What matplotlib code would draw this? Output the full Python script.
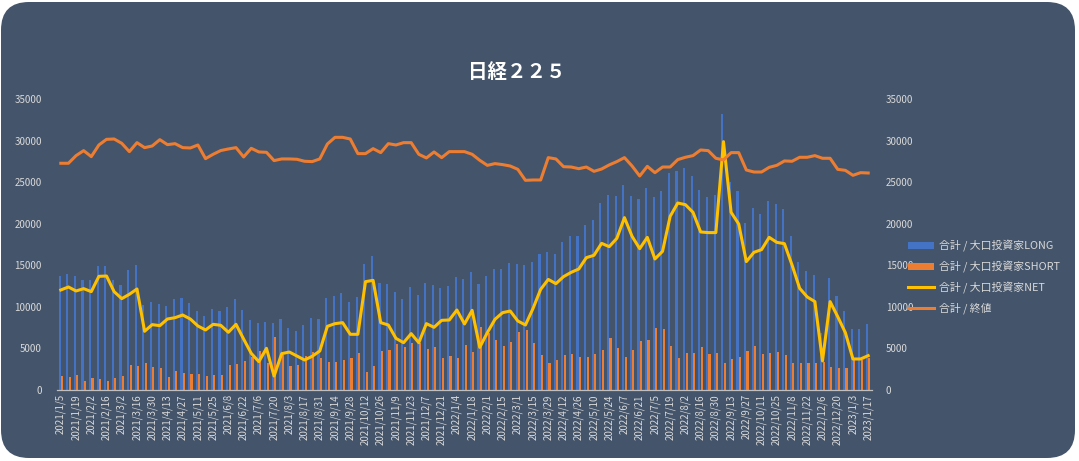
import matplotlib
matplotlib.use("Agg")
import matplotlib.pyplot as plt
from matplotlib.patches import FancyBboxPatch
import numpy as np
import pandas as pd

# ── data (weekly) ──
dates = pd.date_range("2021-01-05", periods=107, freq="7D")
date_labels = [f"{d.year}/{d.month}/{d.day}" for d in dates]

long_pos = [
    13750, 13950, 13750, 13270, 13190, 14880, 14880, 13230, 12590, 14430,
    15040, 10230, 10550, 10300, 10100, 10950, 11070, 10460, 9500, 8900,
    9740, 9500, 9940, 10990, 9580, 8380, 8100, 8180, 8020, 8500,
    7420, 7060, 7780, 8700, 8540, 11030, 11270, 11630, 10550, 11190,
    15120, 16080, 12870, 12710, 11750, 10950, 12390, 11430, 12910, 12630,
    12270, 12510, 13550, 13390, 14190, 12710, 13750, 14590, 14590, 15320,
    15160, 15040, 15400, 16320, 16600, 16320, 17760, 18520, 18520, 19810,
    20450, 22450, 23500, 23300, 24660, 23300, 22980, 24340, 23220, 23900,
    26100, 26340, 26700, 25740, 24100, 23260, 23460, 33200, 25020, 23940,
    20130, 21890, 21130, 22780, 22370, 21730, 18480, 15440, 14350, 13830,
    6900, 13430, 11350, 9500, 7340, 7340, 7940,
]
short_pos = [
    1680, 1560, 1840, 1080, 1400, 1280, 1120, 1480, 1680, 3000,
    2890, 3210, 2810, 2610, 1600, 2250, 2040, 1920, 1920, 1680,
    1840, 1760, 3010, 3090, 3450, 3970, 4690, 3290, 6340, 4210,
    2930, 3010, 4130, 4610, 3850, 3410, 3410, 3570, 3810, 4410,
    2130, 2890, 4690, 4810, 5530, 5210, 5610, 5600, 4930, 5130,
    3810, 4090, 3850, 5450, 4570, 7540, 6860, 6050, 5250, 5770,
    6940, 7260, 5650, 4210, 3290, 3570, 4170, 4370, 3970, 3970,
    4330, 4810, 6250, 5050, 3970, 4850, 5930, 6010, 7460, 7300,
    5290, 3850, 4450, 4450, 5170, 4370, 4490, 3250, 3730, 4010,
    4690, 5330, 4290, 4410, 4570, 4210, 3290, 3290, 3290, 3290,
    3400, 2770, 2650, 2650, 3610, 3610, 3810,
]
net_pos = [
    12030, 12390, 11910, 12190, 11830, 13670, 13710, 11830, 10990, 11510,
    12150, 7060, 7860, 7740, 8540, 8700, 9020, 8540, 7700, 7220,
    7900, 7780, 6940, 7900, 6130, 4410, 3410, 5010, 1680, 4370,
    4570, 4090, 3610, 4050, 4690, 7660, 7980, 8100, 6700, 6700,
    13030, 13190, 8100, 7820, 6210, 5690, 6780, 5690, 7980, 7540,
    8380, 8420, 9620, 7940, 9580, 5130, 6900, 8500, 9300, 9500,
    8300, 7820, 9820, 12110, 13300, 12790, 13630, 14150, 14550, 15920,
    16200, 17640, 17240, 18240, 20730, 18480, 17000, 18360, 15760, 16680,
    20890, 22490, 22290, 21370, 19010, 18930, 18930, 29870, 21370, 19970,
    15440, 16560, 16880, 18360, 17760, 17600, 15040, 12230, 11190, 10630,
    3500, 10630, 8820, 6900, 3730, 3730, 4130,
]
close_price = [
    27270, 27270, 28190, 28790, 28070, 29470, 30150, 30190, 29670, 28670,
    29750, 29150, 29350, 30110, 29510, 29630, 29150, 29110, 29470, 27830,
    28350, 28800, 28990, 29150, 28030, 29070, 28630, 28590, 27590, 27790,
    27790, 27750, 27510, 27470, 27790, 29590, 30390, 30390, 30190, 28430,
    28430, 29030, 28550, 29630, 29470, 29750, 29750, 28350, 27910, 28630,
    27950, 28670, 28670, 28670, 28350, 27630, 27020, 27230, 27110, 26940,
    26540, 25220, 25260, 25260, 27950, 27790, 26860, 26820, 26620, 26820,
    26300, 26580, 27070, 27470, 27950, 26940, 25740, 26900, 26140, 26820,
    26820, 27710, 27990, 28190, 28870, 28790, 27870, 27670, 28550, 28550,
    26460, 26220, 26220, 26780, 27020, 27550, 27510, 27990, 27990, 28190,
    27870, 27870, 26540, 26420, 25820, 26140, 26100,
]

series_names = ["合計 / 大口投資家LONG", "合計 / 大口投資家SHORT",
                "合計 / 大口投資家NET", "合計 / 終値"]
y_ticks = [0, 5000, 10000, 15000, 20000, 25000, 30000, 35000]

# ── style ──
plt.rcParams['font.family'] = ['Noto Sans CJK JP', 'DejaVu Sans']
BG = '#44546A'
TXT = '#D9D9D9'
BLUE = '#4472C4'
ORANGE = '#ED7D31'
YELLOW = '#FFC000'

W, H = 1079, 461
fig = plt.figure(figsize=(W / 100, H / 100), dpi=100)
fig.patch.set_facecolor('white')

# rounded dark background, kept behind the axes
bg = FancyBboxPatch((1 / W, 3 / H), 1074 / W, 456 / H,
                    boxstyle="round,pad=0,rounding_size=0.026",
                    mutation_aspect=W / H, transform=fig.transFigure,
                    facecolor=BG, edgecolor='none', zorder=-10)
fig.patches.append(bg)

ax = fig.add_axes([57 / W, 71 / H, 815 / W, 291 / H])
ax.set_facecolor('none')
x = np.arange(len(date_labels))

b1 = ax.bar(x - 0.16, long_pos, width=0.28, color=BLUE, zorder=2)
b2 = ax.bar(x + 0.16, short_pos, width=0.28, color=ORANGE, zorder=2)
l1, = ax.plot(x, net_pos, color=YELLOW, lw=2.2, zorder=3, solid_joinstyle='round')

ax2 = ax.twinx()
ax2.set_facecolor('none')
l2, = ax2.plot(x, close_price, color=ORANGE, lw=2.2, zorder=3, solid_joinstyle='round')

for a in (ax, ax2):
    a.set_ylim(0, 35000)
    a.set_yticks(y_ticks)
    a.set_xlim(-0.5, len(x) - 0.5)
    for s in a.spines.values():
        s.set_visible(False)
    a.tick_params(axis='y', length=0, labelsize=7, labelcolor=TXT)

ax.tick_params(axis='y', pad=11)
ax2.tick_params(axis='y', pad=10)
ax.spines['bottom'].set_visible(True)
ax.spines['bottom'].set_color('#BFBFBF')
ax.spines['bottom'].set_linewidth(0.9)

ax.set_xticks(x[::2])
ax.set_xticklabels(date_labels[::2], rotation=90, fontsize=7, color=TXT)
ax.tick_params(axis='x', length=0, pad=3)

fig.text(517 / W, 1 - 72 / H, '日経２２５', ha='center', va='center',
         fontsize=14, fontweight='bold', color='white')

leg = fig.legend([b1, b2, l1, l2], series_names,
                 loc='center left', bbox_to_anchor=(905 / W, 1 - 277 / H),
                 frameon=False, fontsize=7.8, labelcolor=TXT,
                 handlelength=2.4, handleheight=0.6, handletextpad=0.4,
                 labelspacing=0.8, borderaxespad=0, borderpad=0.3)

fig.savefig('out.png', dpi=100, facecolor=fig.get_facecolor())
